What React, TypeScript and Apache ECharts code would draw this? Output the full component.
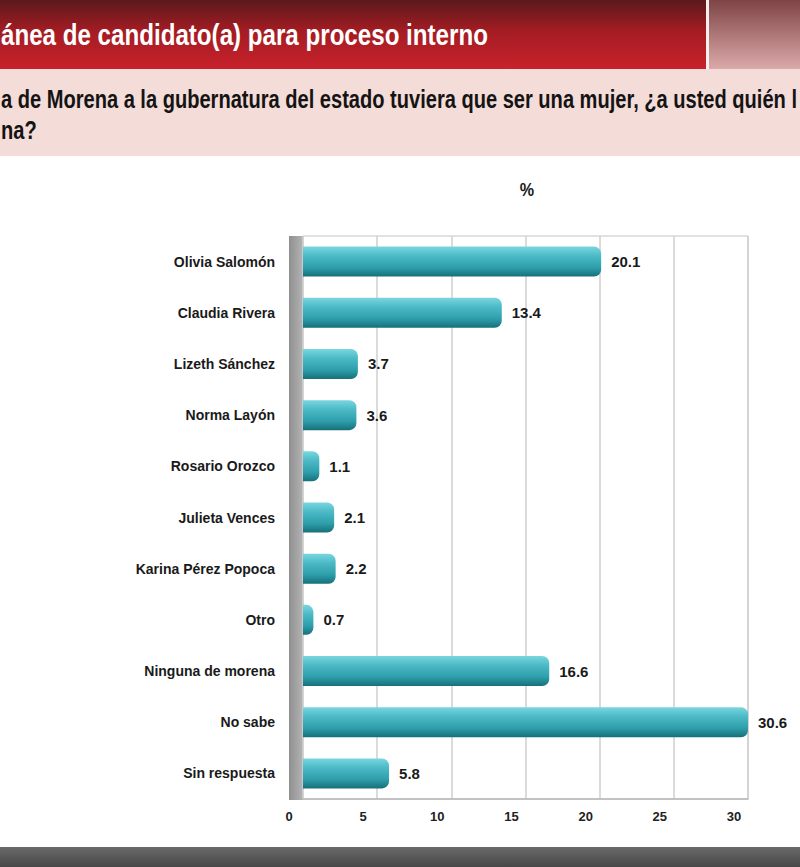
import React, { useEffect, useRef } from "react";
import * as echarts from "echarts";

const categories = [
  "Olivia Salomón",
  "Claudia Rivera",
  "Lizeth Sánchez",
  "Norma Layón",
  "Rosario Orozco",
  "Julieta Vences",
  "Karina Pérez Popoca",
  "Otro",
  "Ninguna de morena",
  "No sabe",
  "Sin respuesta",
];
const values = [20.1, 13.4, 3.7, 3.6, 1.1, 2.1, 2.2, 0.7, 16.6, 30.6, 5.8];
const xTicks = { min: 0, max: 30, interval: 5 };
const titleText = "ánea de candidato(a) para proceso interno";
const questionLines = [
  "a de Morena a la gubernatura del estado tuviera que ser una mujer, ¿a usted quién l",
  "na?",
];
const unitLabel = "%";

const FONT = "'Liberation Sans', Arial, Helvetica, sans-serif";

function measure(text: string, font: string): number {
  const c = document.createElement("canvas");
  const ctx = c.getContext("2d");
  if (!ctx) return text.length * 10;
  ctx.font = font;
  return ctx.measureText(text).width;
}

export default function App() {
  const ref = useRef<HTMLDivElement>(null);
  useEffect(() => {
    if (!ref.current) return;
    const chart = echarts.init(ref.current, null, { renderer: "svg" });
    const grad = (stops: [number, string][], hor = false) =>
      new echarts.graphic.LinearGradient(0, 0, hor ? 1 : 0, hor ? 0 : 1,
        stops.map(([offset, color]) => ({ offset, color })));

    const titleFont = `bold 30px ${FONT}`;
    const qFont = `bold 25px ${FONT}`;
    const titleScale = 487 / measure(titleText, titleFont);
    const qScale = 797 / measure(questionLines[0], qFont);

    chart.setOption({
      animation: false,
      backgroundColor: "#ffffff",
      textStyle: { fontFamily: FONT },
      grid: {
        left: 303,
        right: 52,
        top: 236,
        bottom: 68,
        show: true,
        borderColor: "#c4c4c4",
        borderWidth: 1,
        backgroundColor: "transparent",
      },
      xAxis: {
        type: "value",
        min: xTicks.min,
        max: xTicks.max,
        interval: xTicks.interval,
        axisLine: { show: true, lineStyle: { color: "#b8b8b8", width: 1.5 } },
        axisTick: { show: false },
        splitLine: { show: true, lineStyle: { color: "#cfcfcf", width: 1.5 } },
        axisLabel: {
          color: "#222",
          fontFamily: FONT,
          fontWeight: "bold",
          fontSize: 13,
          margin: 11,
          padding: [0, 28, 0, 0],
        },
      },
      yAxis: {
        type: "category",
        data: categories,
        inverse: true,
        axisLine: { show: false },
        axisTick: { show: false },
        splitLine: { show: false },
        axisLabel: {
          color: "#1a1a1a",
          fontFamily: FONT,
          fontWeight: "bold",
          fontSize: 14,
          margin: 28,
        },
      },
      series: [
        {
          type: "bar",
          data: values,
          barWidth: 30,
          z: 3,
          itemStyle: {
            color: grad([
              [0, "#7ad6df"],
              [0.3, "#4cbbc7"],
              [0.7, "#2e9eaa"],
              [1, "#16707a"],
            ]),
            borderRadius: [0, 7, 7, 0],
          },
          label: {
            show: true,
            position: "right",
            distance: 10,
            color: "#1a1a1a",
            fontFamily: FONT,
            fontWeight: "bold",
            fontSize: 15,
          },
        },
      ],
      graphic: [
        {
          type: "rect",
          z: -10,
          shape: { x: 0, y: 0, width: 706, height: 69 },
          style: {
            fill: grad([
              [0, "#5a1a1c"],
              [0.45, "#a41c23"],
              [1, "#c8222b"],
            ]),
          },
        },
        {
          type: "rect",
          z: -10,
          shape: { x: 706, y: 0, width: 3, height: 69 },
          style: { fill: "#f4f0f0" },
        },
        {
          type: "rect",
          z: -10,
          shape: { x: 709, y: 0, width: 91, height: 69 },
          style: {
            fill: grad([
              [0, "#7e4446"],
              [1, "#dca9a9"],
            ]),
          },
        },
        {
          type: "rect",
          z: -10,
          shape: { x: 0, y: 69, width: 800, height: 87 },
          style: { fill: "#f4dcd8" },
        },
        {
          type: "text",
          x: 1,
          y: 35,
          scaleX: titleScale,
          style: {
            text: titleText,
            fill: "#ffffff",
            font: titleFont,
            verticalAlign: "middle",
          },
        },
        {
          type: "text",
          x: 1,
          y: 99,
          scaleX: qScale,
          style: {
            text: questionLines[0],
            fill: "#141414",
            font: qFont,
            verticalAlign: "middle",
          },
        },
        {
          type: "text",
          x: 1,
          y: 130,
          scaleX: qScale,
          style: {
            text: questionLines[1],
            fill: "#141414",
            font: qFont,
            verticalAlign: "middle",
          },
        },
        {
          type: "text",
          x: 527,
          y: 190,
          scaleX: 0.85,
          style: {
            text: unitLabel,
            fill: "#1a1a1a",
            font: `bold 19px ${FONT}`,
            align: "center",
            verticalAlign: "middle",
          },
        },
        {
          type: "rect",
          z: -5,
          shape: { x: 289, y: 236, width: 14, height: 564 },
          style: {
            fill: grad([
              [0, "#8f8f8f"],
              [1, "#b4b4b4"],
            ], true),
          },
        },
        {
          type: "rect",
          z: -10,
          shape: { x: 0, y: 847, width: 800, height: 20 },
          style: {
            fill: grad([
              [0, "#6a6a6a"],
              [1, "#474747"],
            ]),
          },
        },
      ],
    });
    return () => chart.dispose();
  }, []);
  return (
    <div
      ref={ref}
      style={{ position: "fixed", left: 0, top: 0, width: 800, height: 867 }}
    />
  );
}
